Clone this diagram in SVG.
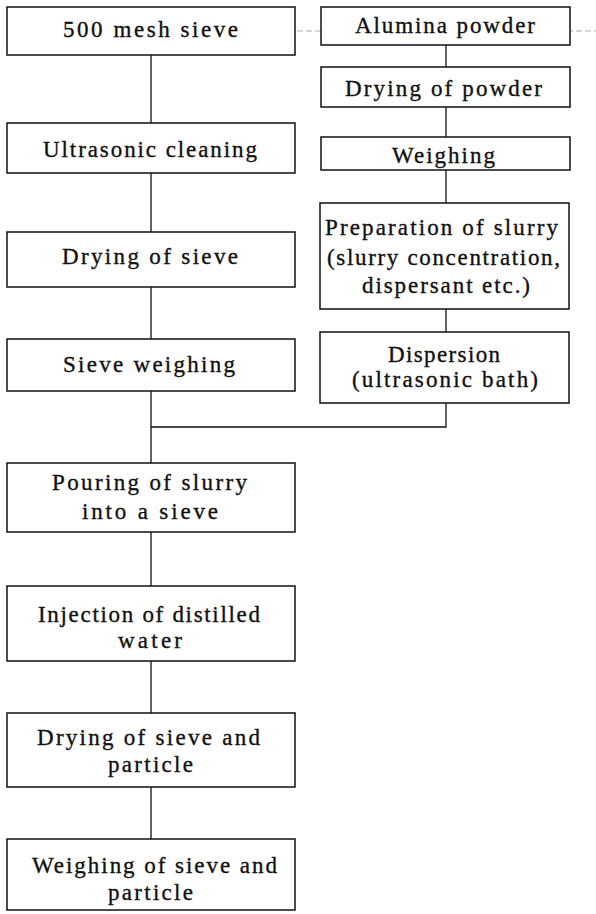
<svg xmlns="http://www.w3.org/2000/svg" width="596" height="914" viewBox="0 0 596 914">
<style>
.box{fill:#fff;stroke:#111;stroke-width:1.5}
.t{font-family:"Liberation Serif","Times New Roman",serif;font-size:23px;fill:#111;stroke:#111;stroke-width:0.35}
.c{fill:none;stroke:#111;stroke-width:1.3}
.faint{fill:none;stroke:#999;stroke-width:0.8;stroke-dasharray:6 3}
</style>
<rect width="596" height="914" fill="#fff"/>
<line class="faint" x1="243" y1="31" x2="596" y2="31"/>
<g id="connectors">
<path class="c" d="M151 55V123M151 173V232M151 287V339M151 391V463M151 532V586M151 661V713M151 787V839"/>
<path class="c" d="M446 45V67M446 107V137M446 170V203M446 309V332M446 403V427H151"/>
</g>
<g id="n1"><rect class="box" x="7" y="7" width="288" height="48"/><text class="t" x="63" y="37" textLength="175" lengthAdjust="spacing">500 mesh sieve</text></g>
<g id="n2"><rect class="box" x="7" y="123" width="288" height="50"/><text class="t" x="43" y="157" textLength="214" lengthAdjust="spacing">Ultrasonic cleaning</text></g>
<g id="n3"><rect class="box" x="7" y="232" width="288" height="55"/><text class="t" x="62" y="264" textLength="176" lengthAdjust="spacing">Drying of sieve</text></g>
<g id="n4"><rect class="box" x="7" y="339" width="288" height="52"/><text class="t" x="63" y="372" textLength="172" lengthAdjust="spacing">Sieve weighing</text></g>
<g id="n5"><rect class="box" x="7" y="463" width="288" height="69"/><text class="t" x="52" y="490" textLength="195" lengthAdjust="spacing">Pouring of slurry</text><text class="t" x="82" y="519" textLength="136" lengthAdjust="spacing">into a sieve</text></g>
<g id="n6"><rect class="box" x="7" y="586" width="288" height="75"/><text class="t" x="38" y="622" textLength="222" lengthAdjust="spacing">Injection of distilled</text><text class="t" x="118" y="648" textLength="64" lengthAdjust="spacing">water</text></g>
<g id="n7"><rect class="box" x="7" y="713" width="288" height="74"/><text class="t" x="37" y="745" textLength="223" lengthAdjust="spacing">Drying of sieve and</text><text class="t" x="108" y="772" textLength="85" lengthAdjust="spacing">particle</text></g>
<g id="n8"><rect class="box" x="7" y="839" width="288" height="71"/><text class="t" x="32" y="873" textLength="245" lengthAdjust="spacing">Weighing of sieve and</text><text class="t" x="108" y="900" textLength="85" lengthAdjust="spacing">particle</text></g>
<g id="r1"><rect class="box" x="321" y="7" width="249" height="38"/><text class="t" x="355" y="33" textLength="180" lengthAdjust="spacing">Alumina powder</text></g>
<g id="r2"><rect class="box" x="321" y="67" width="249" height="40"/><text class="t" x="345" y="96" textLength="197" lengthAdjust="spacing">Drying of powder</text></g>
<g id="r3"><rect class="box" x="321" y="137" width="249" height="33"/><text class="t" x="392" y="163" textLength="103" lengthAdjust="spacing">Weighing</text></g>
<g id="r4"><rect class="box" x="320" y="203" width="249" height="106"/><text class="t" x="325" y="235" textLength="233" lengthAdjust="spacing">Preparation of slurry</text><text class="t" x="327" y="265" textLength="233" lengthAdjust="spacing">(slurry concentration,</text><text class="t" x="362" y="293" textLength="168" lengthAdjust="spacing">dispersant etc.)</text></g>
<g id="r5"><rect class="box" x="320" y="332" width="249" height="71"/><text class="t" x="388" y="362" textLength="112" lengthAdjust="spacing">Dispersion</text><text class="t" x="352" y="387" textLength="186" lengthAdjust="spacing">(ultrasonic bath)</text></g>
</svg>
